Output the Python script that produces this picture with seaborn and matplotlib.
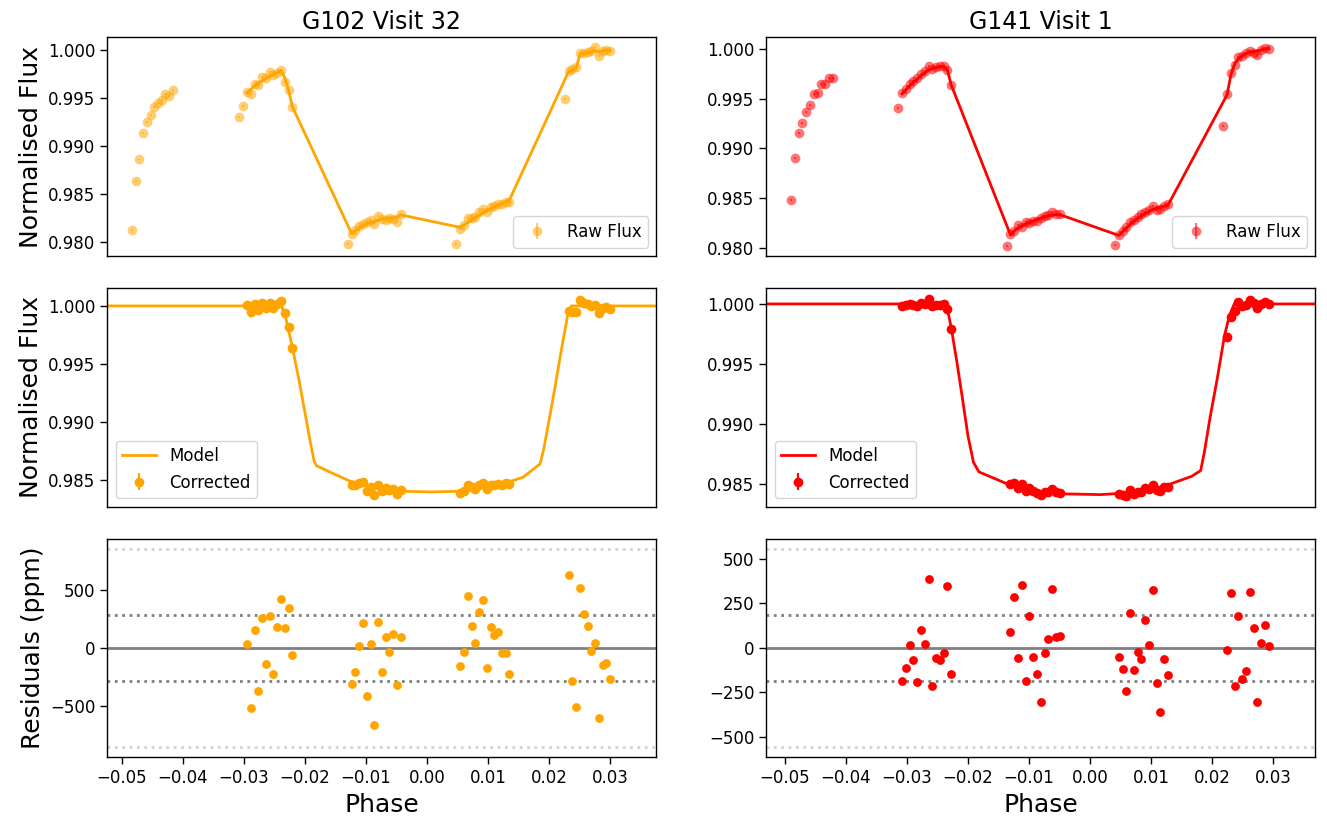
import numpy as np
import matplotlib
matplotlib.use("Agg")
import matplotlib.pyplot as plt
from matplotlib.ticker import MultipleLocator, FormatStrFormatter
import seaborn as sns

# ---------------- G102 Visit 32 ----------------
g102_orbit1_phase = [-0.04833, -0.04771, -0.04711, -0.04646, -0.04586, -0.04526,
                     -0.04466, -0.04406, -0.04346, -0.04286, -0.04220, -0.04160]
g102_orbit1_flux = [0.98125, 0.98635, 0.98861, 0.99132, 0.99250, 0.99326,
                    0.99406, 0.99451, 0.99479, 0.99545, 0.99521, 0.99587]
g102_dropped_phase = [-0.03073, -0.03011, -0.01298, 0.00480, 0.02254]
g102_dropped_flux = [0.99299, 0.99413, 0.97986, 0.97979, 0.99490]

g102_phase = [-0.02949, -0.02887, -0.02825, -0.02763, -0.02701, -0.02639, -0.02577,
              -0.02515, -0.02453, -0.02391, -0.02329, -0.02267, -0.02205,
              -0.01236, -0.01174, -0.01112, -0.01050, -0.00988, -0.00926, -0.00864,
              -0.00802, -0.00740, -0.00678, -0.00616, -0.00554, -0.00492, -0.00430,
              0.00542, 0.00604, 0.00666, 0.00728, 0.00790, 0.00852, 0.00914,
              0.00976, 0.01038, 0.01100, 0.01162, 0.01224, 0.01286, 0.01348,
              0.02316, 0.02378, 0.02440, 0.02502, 0.02564, 0.02626, 0.02688,
              0.02750, 0.02812, 0.02874, 0.02936, 0.02998]
g102_raw_flux = [0.99559, 0.99545, 0.99646, 0.99632, 0.99719, 0.99712, 0.99771,
                 0.99736, 0.99764, 0.99792, 0.99667, 0.99580, 0.99406,
                 0.98083, 0.98125, 0.98167, 0.98195, 0.98212, 0.98236, 0.98195,
                 0.98271, 0.98247, 0.98229, 0.98257, 0.98243, 0.98212, 0.98292,
                 0.98139, 0.98176, 0.98249, 0.98249, 0.98259, 0.98311, 0.98345,
                 0.98313, 0.98368, 0.98381, 0.98403, 0.98401, 0.98416, 0.98418,
                 0.99785, 0.99799, 0.99819, 0.99965, 0.99972, 0.99978, 0.99985,
                 1.00030, 0.99938, 0.99990, 0.99995, 0.99985]
g102_fit_flux = [0.99555, 0.99590, 0.99625, 0.99655, 0.99680, 0.99705, 0.99725,
                 0.99745, 0.99765, 0.99790, 0.99710, 0.99580, 0.99410,
                 0.98090, 0.98120, 0.98150, 0.98170, 0.98190, 0.98205, 0.98215,
                 0.98230, 0.98240, 0.98245, 0.98250, 0.98255, 0.98265, 0.98285,
                 0.98155, 0.98180, 0.98205, 0.98230, 0.98255, 0.98280, 0.98305,
                 0.98330, 0.98350, 0.98370, 0.98390, 0.98405, 0.98420, 0.98440,
                 0.99775, 0.99790, 0.99810, 0.99955, 0.99965, 0.99972, 0.99980,
                 0.99990, 0.99985, 0.99990, 0.99995, 0.99998]
g102_corrected = [1.00004, 0.99949, 1.00015, 0.99963, 1.00026, 0.99986, 1.00027,
                  0.99978, 1.00018, 1.00042, 0.99937, 0.99822, 0.99636,
                  0.98454, 0.98454, 0.98467, 0.98477, 0.98405, 0.98440, 0.98365,
                  0.98450, 0.98403, 0.98428, 0.98412, 0.98423, 0.98375, 0.98412,
                  0.98383, 0.98400, 0.98453, 0.98433, 0.98423, 0.98455, 0.98470,
                  0.98417, 0.98457, 0.98455, 0.98463, 0.98456, 0.98467, 0.98460,
                  0.99959, 0.99951, 0.99945, 1.00052, 1.00029, 1.00019, 0.99997,
                  1.00005, 0.99940, 0.99986, 0.99987, 0.99974]
g102_resid_ppm = [37, -512, 151, -369, 260, -137, 274, -220, 183, 420, 171, 340, -57,
                  -304, -206, 17, 211, -409, 31, -660, 226, -203, 94, -34, 117, -321, 91,
                  -158, -38, 443, 191, 43, 311, 412, -172, 180, 108, 134, -40, -40, -223,
                  620, -286, -509, 515, 292, 191, -26, 45, -600, -143, -132, -263]
g102_model_phase = [-0.060, -0.0238, -0.0231, -0.0220, -0.0209, -0.0200, -0.0191,
                    -0.0185, -0.0181, -0.0158, -0.0128, -0.0091, -0.0037, 0.0006,
                    0.0054, 0.0115, 0.0157, 0.0185, 0.0191, 0.0206, 0.0221, 0.0230,
                    0.0236, 0.040]
g102_model_flux = [1.0, 1.0, 0.9989, 0.9963, 0.9934, 0.9908, 0.9882,
                   0.9866, 0.9862, 0.98563, 0.98491, 0.98434, 0.98399, 0.98394,
                   0.98399, 0.98448, 0.98520, 0.98636, 0.98765, 0.99197, 0.99657, 0.99916,
                   1.0, 1.0]

# ---------------- G141 Visit 1 ----------------
g141_orbit1_phase = [-0.04899, -0.04839, -0.04774, -0.04714, -0.04653, -0.04588,
                     -0.04528, -0.04463, -0.04403, -0.04337, -0.04277, -0.04211]
g141_orbit1_flux = [0.98484, 0.98908, 0.99156, 0.99254, 0.99368, 0.99435,
                    0.99543, 0.99560, 0.99644, 0.99647, 0.99711, 0.99711]
g141_dropped_phase = [-0.03141, -0.01366, 0.00407, 0.02180]
g141_dropped_flux = [0.99408, 0.98023, 0.98033, 0.99223]

g141_phase = [-0.03079, -0.03017, -0.02955, -0.02894, -0.02832, -0.02770, -0.02708,
              -0.02646, -0.02585, -0.02523, -0.02461, -0.02399, -0.02337, -0.02275,
              -0.01304, -0.01242, -0.01180, -0.01118, -0.01056, -0.00994, -0.00932,
              -0.00870, -0.00808, -0.00746, -0.00684, -0.00622, -0.00560, -0.00498,
              0.00469, 0.00531, 0.00593, 0.00655, 0.00717, 0.00779, 0.00841,
              0.00903, 0.00965, 0.01027, 0.01089, 0.01151, 0.01213, 0.01275,
              0.02242, 0.02304, 0.02366, 0.02428, 0.02490, 0.02552, 0.02614,
              0.02676, 0.02738, 0.02800, 0.02862, 0.02924]
g141_raw_flux = [0.99553, 0.99593, 0.99644, 0.99680, 0.99704, 0.99748, 0.99781,
                 0.99829, 0.99795, 0.99815, 0.99829, 0.99829, 0.99788, 0.99637,
                 0.98140, 0.98174, 0.98235, 0.98208, 0.98258, 0.98250, 0.98275,
                 0.98270, 0.98300, 0.98320, 0.98326, 0.98359, 0.98340, 0.98336,
                 0.98134, 0.98174, 0.98208, 0.98258, 0.98282, 0.98309, 0.98343,
                 0.98359, 0.98376, 0.98417, 0.98376, 0.98393, 0.98417, 0.98437,
                 0.99546, 0.99755, 0.99839, 0.99916, 0.99929, 0.99963, 0.99983,
                 0.99956, 0.99939, 0.99990, 1.00007, 1.00004]
g141_fit_flux = [0.99550, 0.99590, 0.99630, 0.99665, 0.99695, 0.99730, 0.99760,
                 0.99790, 0.99805, 0.99815, 0.99822, 0.99825, 0.99790, 0.99640,
                 0.98130, 0.98170, 0.98200, 0.98220, 0.98240, 0.98255, 0.98270,
                 0.98285, 0.98300, 0.98310, 0.98320, 0.98330, 0.98335, 0.98335,
                 0.98125, 0.98165, 0.98200, 0.98235, 0.98265, 0.98295, 0.98320,
                 0.98345, 0.98365, 0.98385, 0.98400, 0.98410, 0.98420, 0.98430,
                 0.99540, 0.99740, 0.99850, 0.99905, 0.99930, 0.99955, 0.99970,
                 0.99975, 0.99980, 0.99990, 1.00000, 1.00005]
g141_corrected = [0.99982, 0.99989, 1.00002, 0.99993, 0.99981, 1.00010, 1.00002,
                  1.00039, 0.99979, 0.99994, 0.99993, 0.99997, 0.99960, 0.99792,
                  0.98499, 0.98511, 0.98468, 0.98501, 0.98439, 0.98467, 0.98438,
                  0.98424, 0.98406, 0.98430, 0.98435, 0.98460, 0.98430, 0.98427,
                  0.98415, 0.98410, 0.98400, 0.98446, 0.98415, 0.98429, 0.98432,
                  0.98462, 0.98455, 0.98492, 0.98449, 0.98439, 0.98476, 0.98477,
                  0.99722, 0.99888, 0.99944, 1.00018, 0.99982, 0.99987, 1.00032,
                  1.00011, 0.99970, 1.00003, 1.00013, 1.00001]
g141_resid_ppm = [-184, -111, 15, -68, -192, 99, 24, 388, -214, -56, -66, -30, 349, -145,
                  90, 289, -58, 355, -184, 182, -53, -146, -302, -28, 48, 330, 60, 69,
                  -53, -120, -240, 195, -126, -21, -64, 159, 19, 324, -195, -360, -60, -150,
                  -11, 311, -216, 180, -177, -128, 315, 110, -302, 28, 131, 13]
g141_model_phase = [-0.060, -0.0236, -0.0233, -0.0227, -0.0218, -0.0209, -0.0200,
                    -0.0191, -0.0182, -0.0161, -0.0132, -0.0096, -0.0042, 0.0017,
                    0.0077, 0.0124, 0.0166, 0.0181, 0.0187, 0.0196, 0.0208, 0.0220,
                    0.0228, 0.0236, 0.040]
g141_model_flux = [1.0, 1.0, 0.9994, 0.9979, 0.9951, 0.9921, 0.9890,
                   0.9868, 0.9860, 0.98555, 0.98492, 0.98444, 0.98417, 0.98411,
                   0.98430, 0.98486, 0.98563, 0.98611, 0.98764, 0.99042, 0.99375, 0.99736,
                   0.99903, 1.0, 1.0]

titles = ["G102 Visit 32", "G141 Visit 1"]
colors = ["orange", "red"]
flux_err = 0.0001

visits = [
    dict(title=titles[0], color=colors[0],
         orbit1_x=g102_orbit1_phase, orbit1_y=g102_orbit1_flux,
         drop_x=g102_dropped_phase, drop_y=g102_dropped_flux,
         x=g102_phase, raw=g102_raw_flux, fit=g102_fit_flux, corr=g102_corrected,
         res=g102_resid_ppm, mx=g102_model_phase, my=g102_model_flux,
         xlim=(-0.05234, 0.03754), ylim_top=(0.97858, 1.00132), ylim_mid=(0.98267, 1.00155)),
    dict(title=titles[1], color=colors[1],
         orbit1_x=g141_orbit1_phase, orbit1_y=g141_orbit1_flux,
         drop_x=g141_dropped_phase, drop_y=g141_dropped_flux,
         x=g141_phase, raw=g141_raw_flux, fit=g141_fit_flux, corr=g141_corrected,
         res=g141_resid_ppm, mx=g141_model_phase, my=g141_model_flux,
         xlim=(-0.05303, 0.03687), ylim_top=(0.97919, 1.00118), ylim_mid=(0.98311, 1.00133)),
]

plt.rcParams.update({
    "font.family": ["DejaVu Sans"],
    "axes.linewidth": 1.0,
    "xtick.major.size": 5,
    "ytick.major.size": 5,
    "xtick.major.width": 1.0,
    "ytick.major.width": 1.0,
    "xtick.labelsize": 12,
    "ytick.labelsize": 12,
})

fig, axes = plt.subplots(3, 2, figsize=(13.27, 8.27), dpi=100)
fig.subplots_adjust(left=0.0809, right=0.9912, bottom=0.0843, top=0.9549,
                    wspace=0.2, hspace=0.1466)

for col, v in enumerate(visits):
    c = v["color"]
    ax0, ax1, ax2 = axes[:, col]

    # --- raw flux ---
    raw_x = v["orbit1_x"] + v["drop_x"] + v["x"]
    raw_y = v["orbit1_y"] + v["drop_y"] + v["raw"]
    ax0.errorbar(raw_x, raw_y, yerr=flux_err, fmt="o", color=c, alpha=0.55,
                 ms=7, mew=0, label="Raw Flux")
    sns.lineplot(x=v["x"], y=v["fit"], ax=ax0, color=c, lw=2,
                 estimator=None, sort=False, legend=False)
    ax0.set_ylim(*v["ylim_top"])
    ax0.yaxis.set_major_locator(MultipleLocator(0.005))
    ax0.yaxis.set_major_formatter(FormatStrFormatter("%.3f"))
    ax0.legend(loc="lower right", fontsize=12)
    ax0.set_title(v["title"], fontsize=17)

    # --- corrected ---
    sns.lineplot(x=v["mx"], y=v["my"], ax=ax1, color=c, lw=2,
                 estimator=None, sort=False, label="Model")
    ax1.errorbar(v["x"], v["corr"], yerr=flux_err, fmt="o", color=c,
                 ms=7, mew=0, label="Corrected")
    ax1.set_ylim(*v["ylim_mid"])
    ax1.yaxis.set_major_locator(MultipleLocator(0.005))
    ax1.yaxis.set_major_formatter(FormatStrFormatter("%.3f"))
    ax1.legend(loc="lower left", fontsize=12)

    # --- residuals ---
    res = np.asarray(v["res"], dtype=float)
    sigma = np.std(res)
    ax2.axhline(0, color="grey", lw=2, zorder=1)
    for s in (1, -1):
        ax2.axhline(s * sigma, color="grey", ls=":", lw=2, zorder=1)
        ax2.axhline(s * 3 * sigma, color="lightgrey", ls=":", lw=2, zorder=1)
    sns.scatterplot(x=v["x"], y=res, ax=ax2, color=c, s=40, linewidth=0,
                    zorder=3, legend=False)
    ax2.set_ylim(-3.3 * sigma, 3.3 * sigma)
    ax2.xaxis.set_major_locator(MultipleLocator(0.01))
    ax2.set_xlabel("Phase", fontsize=18)

    for ax in (ax0, ax1, ax2):
        ax.set_xlim(*v["xlim"])
        ax.set_ylabel("")
    for ax in (ax0, ax1):
        ax.tick_params(axis="x", bottom=False, labelbottom=False)
        ax.set_xlabel("")

    if col == 0:
        ax0.set_ylabel("Normalised Flux", fontsize=18)
        ax1.set_ylabel("Normalised Flux", fontsize=18)
        ax2.set_ylabel("Residuals (ppm)", fontsize=18)

fig.savefig("out.png", dpi=100)
